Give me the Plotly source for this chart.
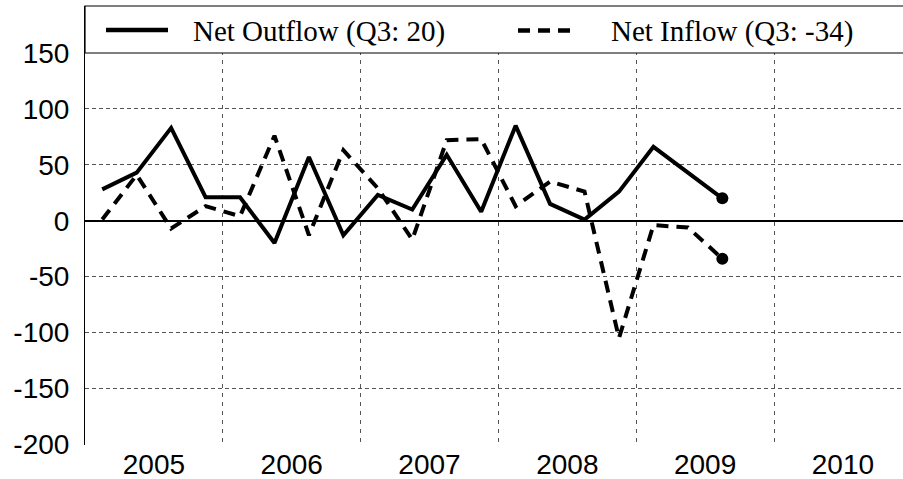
import plotly.graph_objects as go

# ---- data ----
quarter_labels = ["2005Q1", "2005Q2", "2005Q3", "2005Q4",
                  "2006Q1", "2006Q2", "2006Q3", "2006Q4",
                  "2007Q1", "2007Q2", "2007Q3", "2007Q4",
                  "2008Q1", "2008Q2", "2008Q3", "2008Q4",
                  "2009Q1", "2009Q2", "2009Q3"]
net_outflow = [28, 43, 83, 21, 21, -20, 57, -13, 23, 10, 59, 8, 85, 15, 1, 26, 66, None, 20]
net_inflow = [1, 41, -7, 13, 4, 76, -13, 63, 29, -17, 72, 73, 13, 35, 26, -105, -4, -6, -34]
year_labels = ["2005", "2006", "2007", "2008", "2009", "2010"]
y_ticks = [-200, -150, -100, -50, 0, 50, 100, 150]
legend_names = ["Net Outflow (Q3: 20)", "Net Inflow (Q3: -34)"]

# quarter -> continuous year position (middle of the quarter)
x_pos = [int(q[:4]) + (int(q[-1]) - 0.5) / 4 for q in quarter_labels]
year_mid = [int(y) + 0.5 for y in year_labels]
year_bounds = [int(y) for y in year_labels[1:]]

W, H = 903, 479
ML, MR, MT, MB = 85, 0, 6, 34
PW, PH = W - ML - MR, H - MT - MB


def px_x(px):
    return (px - ML) / PW


def px_y(py):
    return 1 - (py - MT) / PH


fig = go.Figure()
fig.add_trace(go.Scatter(
    x=x_pos, y=net_outflow, name=legend_names[0], mode="lines",
    connectgaps=True, showlegend=False,
    line=dict(color="black", width=4),
))
fig.add_trace(go.Scatter(
    x=x_pos, y=net_inflow, name=legend_names[1], mode="lines",
    connectgaps=True, showlegend=False,
    line=dict(color="black", width=4, dash="12px,8px"),
))
# end-point dots (latest quarter of each series)
fig.add_trace(go.Scatter(
    x=[x_pos[-1], x_pos[-1]], y=[net_outflow[-1], net_inflow[-1]],
    mode="markers", showlegend=False, hoverinfo="skip",
    marker=dict(color="black", size=12, opacity=1, line=dict(color="black", width=0)),
))

grid_col = "#555555"
fig.update_layout(
    width=W, height=H,
    margin=dict(l=ML, r=MR, t=MT, b=MB, pad=0, autoexpand=False),
    paper_bgcolor="white", plot_bgcolor="white",
    font=dict(family="Liberation Sans, Arial, sans-serif", size=28, color="black"),
    showlegend=False,
    xaxis=dict(
        range=[2005, 2010.936], automargin=False,
        tickmode="array", tickvals=year_mid, ticktext=year_labels,
        ticks="", showgrid=False, zeroline=False, showline=False,
        ticklabelstandoff=0,
        minor=dict(tickmode="array", tickvals=year_bounds, showgrid=True,
                   gridcolor=grid_col, griddash="4px,5px", gridwidth=1, ticks=""),
    ),
    yaxis=dict(
        range=[-200.6, 192], automargin=False,
        tickmode="array", tickvals=y_ticks, ticktext=[str(v) for v in y_ticks],
        ticks="", showgrid=True, gridcolor=grid_col, griddash="4px,3px", gridwidth=1,
        zeroline=True, zerolinecolor="black", zerolinewidth=2,
        showline=True, linecolor="black", linewidth=1,
        ticklabelstandoff=9,
    ),
)

# legend box (drawn manually to match the reference layout)
shapes = [
    dict(type="rect", xref="paper", yref="paper", x0=0, x1=1.01,
         y0=px_y(53), y1=px_y(6), fillcolor="white",
         line=dict(color="black", width=1.2), layer="above"),
    dict(type="line", xref="paper", yref="paper", x0=px_x(106), x1=px_x(168),
         y0=px_y(30), y1=px_y(30), line=dict(color="black", width=4.5), layer="above"),
    dict(type="line", xref="paper", yref="paper", x0=px_x(518), x1=px_x(578),
         y0=px_y(30.5), y1=px_y(30.5), line=dict(color="black", width=4.5, dash="12px,8px"),
         layer="above"),
]
fig.update_layout(shapes=shapes)
fig.add_annotation(x=px_x(191), y=px_y(31), xref="paper", yref="paper",
                   xanchor="left", yanchor="middle", showarrow=False,
                   text=legend_names[0],
                   font=dict(family="Liberation Serif, Times New Roman, serif", size=29, color="black"))
fig.add_annotation(x=px_x(609), y=px_y(31), xref="paper", yref="paper",
                   xanchor="left", yanchor="middle", showarrow=False,
                   text=legend_names[1],
                   font=dict(family="Liberation Serif, Times New Roman, serif", size=29, color="black"))

fig.write_html("out.html", config={"displayModeBar": False},
               post_script="document.body.style.margin='0';document.body.style.overflow='hidden';")
